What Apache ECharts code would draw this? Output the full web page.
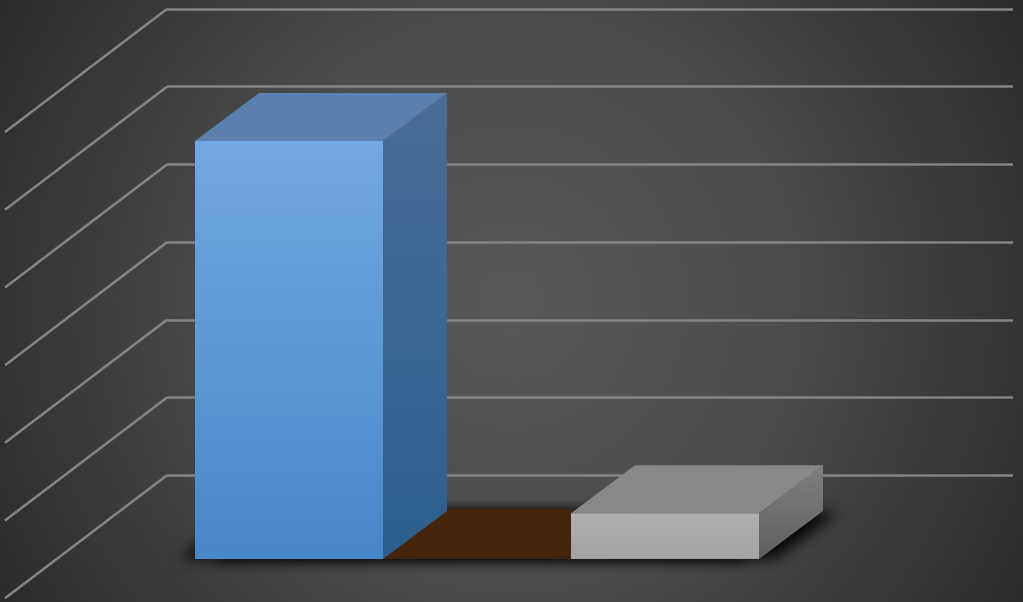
<!DOCTYPE html>
<html>
<head>
<meta charset="utf-8">
<style>html,body{margin:0;padding:0;background:#333}#c{width:1023px;height:602px}</style>
<script src="https://cdn.jsdelivr.net/npm/echarts@6/dist/echarts.min.js"></script>
</head>
<body>
<div id="c"></div>
<script>
var categories = ['A', 'B', 'C'];
var barValues = [5.38, 0.02, 0.59];
var wallTicks = [1, 2, 3, 4, 5, 6, 7];
var palette = [
  { frontTop: '#72a8e2', frontBottom: '#4887c8', sideTop: '#4a6d98', sideBottom: '#2c5f8e', top: '#5c80ad' },
  { frontTop: '#47240c', frontBottom: '#47240c', sideTop: '#47240c', sideBottom: '#47240c', top: '#47240c' },
  { frontTop: '#b0b0b0', frontBottom: '#a3a3a3', sideTop: '#7f7f7f', sideBottom: '#5f5f5f', top: '#888888' }
];
var depthX = 64, depthY = 48, wallX = 162, wallY = 123;

function vGrad(a, b) {
  return { type: 'linear', x: 0, y: 0, x2: 0, y2: 1, colorStops: [{ offset: 0, color: a }, { offset: 1, color: b }] };
}
function renderBar(params, api) {
  var i = api.value(0), v = api.value(1);
  var w = api.size([1, 0])[0];
  var top = api.coord([i, v]), base = api.coord([i, 0]);
  var l = top[0] - w / 2, r = top[0] + w / 2, t = top[1], b = base[1];
  var c = palette[i], z = Math.round(v * 10) + 1;
  function poly(pts, fill, z2, extra) {
    return { type: 'polygon', z2: z2, shape: { points: pts }, style: Object.assign({ fill: fill }, extra || {}) };
  }
  var foot = [[l, b - 1], [r, b - 1], [r + depthX, b - depthY], [l + depthX, b - depthY]];
  return { type: 'group', children: [
    poly(foot, '#1a1a1a', -1, { shadowBlur: 14, shadowOffsetX: -16, shadowOffsetY: 1, shadowColor: 'rgba(0,0,0,0.9)' }),
    poly(foot, '#1a1a1a', -1, { shadowBlur: 14, shadowOffsetX: 16, shadowOffsetY: 1, shadowColor: 'rgba(0,0,0,0.9)' }),
    poly([[r, t], [r + depthX, t - depthY], [r + depthX, b - depthY], [r, b]], vGrad(c.sideTop, c.sideBottom), z),
    poly([[l, t], [r, t], [r + depthX, t - depthY], [l + depthX, t - depthY]], c.top, z),
    { type: 'rect', z2: z, shape: { x: l, y: t, width: w, height: b - t }, style: { fill: vGrad(c.frontTop, c.frontBottom) } }
  ] };
}
function renderWall(params, api) {
  var p = api.coord([0, api.value(0)]);
  var x = params.coordSys.x;
  return { type: 'line', shape: { x1: x, y1: p[1], x2: x - wallX, y2: p[1] + wallY },
    style: { stroke: '#858585', lineWidth: 2.5 } };
}
var chart = echarts.init(document.getElementById('c'), null, { renderer: 'canvas' });
chart.setOption({
  animation: false,
  backgroundColor: { type: 'radial', x: 0.5, y: 0.5, r: 1.0, colorStops: [{ offset: 0, color: '#585858' }, { offset: 0.45, color: '#4c4c4c' }, { offset: 1, color: '#2a2a2a' }] },
  grid: [
    { left: 167, right: 10, top: 9, bottom: 49 },
    { left: 195, width: 564, top: 15, bottom: 43 }
  ],
  xAxis: [
    { gridIndex: 0, type: 'category', data: [''], show: true, axisLine: { show: false }, axisTick: { show: false }, axisLabel: { show: false }, splitLine: { show: false } },
    { gridIndex: 1, type: 'category', data: categories, axisLine: { show: false }, axisTick: { show: false }, axisLabel: { show: false }, splitLine: { show: false } }
  ],
  yAxis: [
    { gridIndex: 0, type: 'value', min: 0, max: 7, interval: 1, axisLine: { show: false }, axisTick: { show: false }, axisLabel: { show: false },
      splitLine: { show: true, showMinLine: false, lineStyle: { color: '#858585', width: 2.5 } } },
    { gridIndex: 1, type: 'value', min: 0, max: 7, interval: 1, axisLine: { show: false }, axisTick: { show: false }, axisLabel: { show: false }, splitLine: { show: false } }
  ],
  series: [
    { type: 'custom', xAxisIndex: 0, yAxisIndex: 0, clip: false, silent: true, renderItem: renderWall,
      encode: { y: 0 }, data: wallTicks.map(function (t) { return [t]; }) },
    { type: 'custom', xAxisIndex: 1, yAxisIndex: 1, clip: false, silent: true, renderItem: renderBar,
      encode: { x: 0, y: 1 }, data: barValues.map(function (v, i) { return [i, v]; }) }
  ]
});
</script>
</body>
</html>
